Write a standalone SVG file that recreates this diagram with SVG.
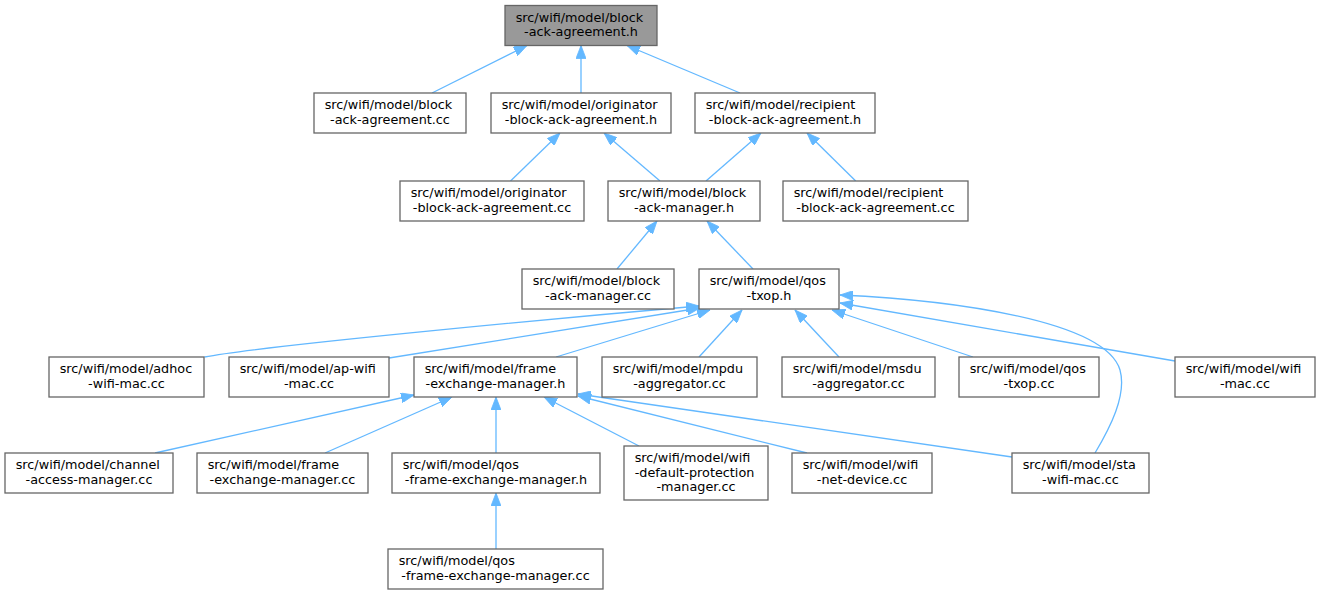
<svg xmlns="http://www.w3.org/2000/svg" width="1320" height="595" viewBox="0 0 1320 595">
<style>
.n rect{fill:#ffffff;stroke:#666666;stroke-width:1.3}
.n.root rect{fill:#999999}
.n text{font-family:"DejaVu Sans",sans-serif;font-size:12.8px;fill:#000000}
.s{text-anchor:start}
.m{text-anchor:middle}
#edges path{fill:none;stroke:#63b8ff;stroke-width:1.3;marker-end:url(#ah)}
</style>
<defs>
<marker id="ah" markerUnits="userSpaceOnUse" markerWidth="13" markerHeight="10" viewBox="0 0 13 10" refX="13" refY="5" orient="auto">
<path d="M0,0 L13,5 L0,10 Z" fill="#63b8ff" stroke="#63b8ff" stroke-width="0.8"/>
</marker>
</defs>
<rect width="1320" height="595" fill="#ffffff"/>
<g id="edges">
<path d="M432,93 L527,45.5"/>
<path d="M581,93 L581,45.5"/>
<path d="M740,93 L627,45.5"/>
<path d="M510.5,181 L560,133"/>
<path d="M660,181 L604,133"/>
<path d="M706,181 L761,133"/>
<path d="M855.7,181 L807,133"/>
<path d="M617,269 L657,221"/>
<path d="M753,269 L707,221"/>
<path d="M204.5,357 C260,346 560,318 699,306"/>
<path d="M389,358 L700,308"/>
<path d="M556,357 L710,310"/>
<path d="M699,357 L742,310"/>
<path d="M839,357 L795,310"/>
<path d="M973,357 L832,310"/>
<path d="M1175,361 L840,303"/>
<path d="M1095,453 C1110,428 1127,395 1120,370 C1105,320 950,300 840,295"/>
<path d="M155,453 L414,395"/>
<path d="M325,453 L452,397"/>
<path d="M496,453 L496,397"/>
<path d="M639,446 L544,397"/>
<path d="M807,453 L578,396"/>
<path d="M1012,457 L578,394"/>
<path d="M496,549 L496,493"/>
</g>
<g id="n0" class="n root"><rect x="505" y="5.5" width="152" height="40"/><text class="s" x="515.7" y="21.5">src/wifi/model/block</text><text class="m" x="581" y="36">-ack-agreement.h</text></g>
<g id="n1" class="n"><rect x="314" y="93" width="152" height="40"/><text class="s" x="324.7" y="109">src/wifi/model/block</text><text class="m" x="390" y="123.5">-ack-agreement.cc</text></g>
<g id="n2" class="n"><rect x="491" y="93" width="180" height="40"/><text class="s" x="501.7" y="109">src/wifi/model/originator</text><text class="m" x="581" y="123.5">-block-ack-agreement.h</text></g>
<g id="n3" class="n"><rect x="695" y="93" width="180" height="40"/><text class="s" x="705.7" y="109">src/wifi/model/recipient</text><text class="m" x="785" y="123.5">-block-ack-agreement.h</text></g>
<g id="n4" class="n"><rect x="400" y="181" width="184" height="40"/><text class="s" x="410.7" y="197">src/wifi/model/originator</text><text class="m" x="492" y="211.5">-block-ack-agreement.cc</text></g>
<g id="n5" class="n"><rect x="608" y="181" width="152" height="40"/><text class="s" x="618.7" y="197">src/wifi/model/block</text><text class="m" x="684" y="211.5">-ack-manager.h</text></g>
<g id="n6" class="n"><rect x="783" y="181" width="185" height="40"/><text class="s" x="793.7" y="197">src/wifi/model/recipient</text><text class="m" x="875.5" y="211.5">-block-ack-agreement.cc</text></g>
<g id="n7" class="n"><rect x="522" y="269" width="152" height="40"/><text class="s" x="532.7" y="285">src/wifi/model/block</text><text class="m" x="598" y="299.5">-ack-manager.cc</text></g>
<g id="n8" class="n"><rect x="699" y="269" width="140" height="40"/><text class="s" x="709.7" y="285">src/wifi/model/qos</text><text class="m" x="769" y="299.5">-txop.h</text></g>
<g id="n9" class="n"><rect x="49" y="357" width="155" height="40"/><text class="s" x="59.7" y="373">src/wifi/model/adhoc</text><text class="m" x="126.5" y="387.5">-wifi-mac.cc</text></g>
<g id="n10" class="n"><rect x="229" y="357" width="160" height="40"/><text class="s" x="239.7" y="373">src/wifi/model/ap-wifi</text><text class="m" x="309" y="387.5">-mac.cc</text></g>
<g id="n11" class="n"><rect x="414" y="357" width="163" height="40"/><text class="s" x="424.7" y="373">src/wifi/model/frame</text><text class="m" x="495.5" y="387.5">-exchange-manager.h</text></g>
<g id="n12" class="n"><rect x="602" y="357" width="155" height="40"/><text class="s" x="612.7" y="373">src/wifi/model/mpdu</text><text class="m" x="679.5" y="387.5">-aggregator.cc</text></g>
<g id="n13" class="n"><rect x="782" y="357" width="153" height="40"/><text class="s" x="792.7" y="373">src/wifi/model/msdu</text><text class="m" x="858.5" y="387.5">-aggregator.cc</text></g>
<g id="n14" class="n"><rect x="959" y="357" width="140" height="40"/><text class="s" x="969.7" y="373">src/wifi/model/qos</text><text class="m" x="1029" y="387.5">-txop.cc</text></g>
<g id="n15" class="n"><rect x="1175" y="357" width="140" height="40"/><text class="s" x="1185.7" y="373">src/wifi/model/wifi</text><text class="m" x="1245" y="387.5">-mac.cc</text></g>
<g id="n16" class="n"><rect x="5" y="453" width="168" height="40"/><text class="s" x="15.7" y="469">src/wifi/model/channel</text><text class="m" x="89" y="483.5">-access-manager.cc</text></g>
<g id="n17" class="n"><rect x="197" y="453" width="171" height="40"/><text class="s" x="207.7" y="469">src/wifi/model/frame</text><text class="m" x="282.5" y="483.5">-exchange-manager.cc</text></g>
<g id="n18" class="n"><rect x="392" y="453" width="208" height="40"/><text class="s" x="402.7" y="469">src/wifi/model/qos</text><text class="m" x="496" y="483.5">-frame-exchange-manager.h</text></g>
<g id="n19" class="n"><rect x="624" y="446" width="144" height="54"/><text class="s" x="634.7" y="461.7">src/wifi/model/wifi</text><text class="s" x="634.7" y="476.5">-default-protection</text><text class="m" x="696" y="491">-manager.cc</text></g>
<g id="n20" class="n"><rect x="792" y="453" width="140" height="40"/><text class="s" x="802.7" y="469">src/wifi/model/wifi</text><text class="m" x="862" y="483.5">-net-device.cc</text></g>
<g id="n21" class="n"><rect x="1012" y="453" width="137" height="40"/><text class="s" x="1022.7" y="469">src/wifi/model/sta</text><text class="m" x="1080.5" y="483.5">-wifi-mac.cc</text></g>
<g id="n22" class="n"><rect x="388" y="549" width="215" height="40"/><text class="s" x="398.7" y="565">src/wifi/model/qos</text><text class="m" x="495.5" y="579.5">-frame-exchange-manager.cc</text></g>
</svg>
